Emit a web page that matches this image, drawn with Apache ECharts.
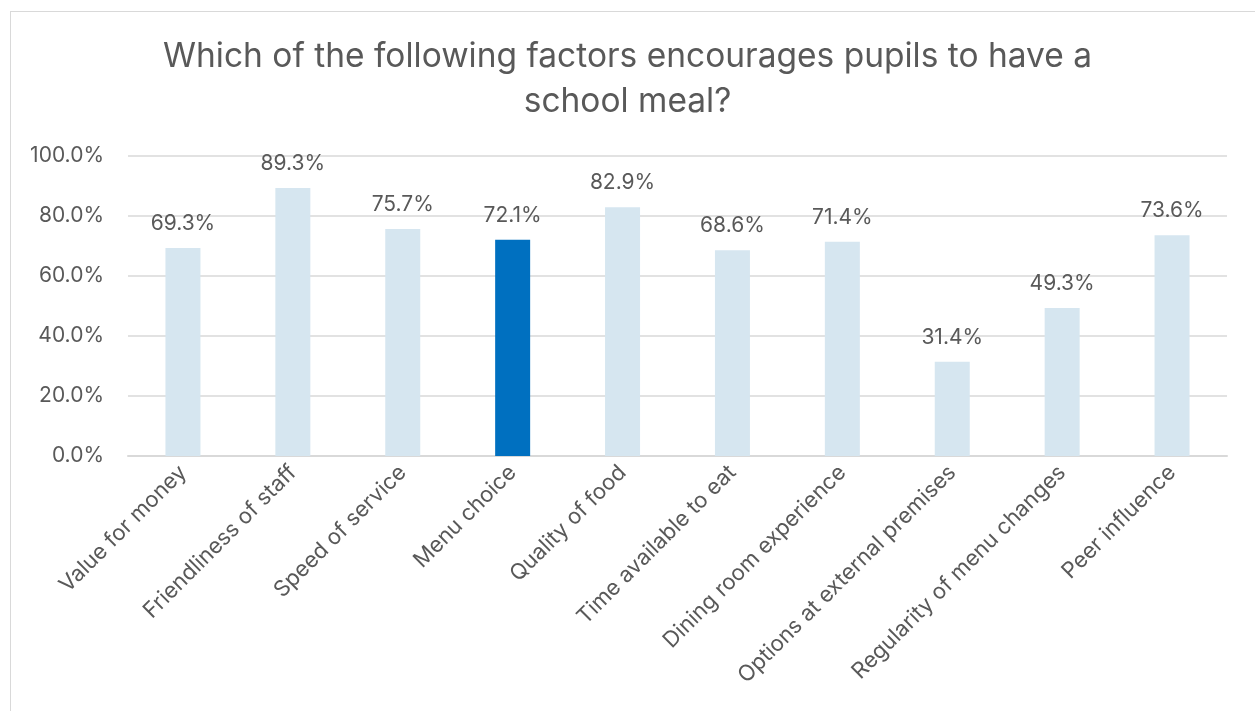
<!DOCTYPE html>
<html>
<head>
<meta charset="utf-8">
<script src="https://cdn.jsdelivr.net/npm/echarts@6/dist/echarts.min.js"></script>
<style>
  html, body { margin: 0; padding: 0; background: #fff; }
  #frame { position: absolute; left: 10px; top: 11px; width: 1300px; height: 760px; border: 1px solid #d9d9d9; box-sizing: border-box; }
  #chart { position: absolute; left: 0; top: 0; width: 1255px; height: 711px; }
</style>
</head>
<body>
<div id="frame"></div>
<div id="chart"></div>
<script>
const categories = [
  'Value for money', 'Friendliness of staff', 'Speed of service', 'Menu choice',
  'Quality of food', 'Time available to eat', 'Dining room experience',
  'Options at external premises', 'Regularity of menu changes', 'Peer influence'
];
const values = [69.3, 89.3, 75.7, 72.1, 82.9, 68.6, 71.4, 31.4, 49.3, 73.6];
const highlighted = 'Menu choice';
const yTicks = { min: 0, max: 100, interval: 20 };

const FONT = 'Inter, "Liberation Sans", sans-serif';
const TEXT = '#595959';

const chart = echarts.init(document.getElementById('chart'), null, { renderer: 'canvas' });
chart.setOption({
  backgroundColor: 'transparent',
  animation: false,
  title: {
    text: 'Which of the following factors encourages pupils to have a\nschool meal?',
    left: 'center',
    top: 29,
    textStyle: { fontFamily: FONT, fontSize: 33.5, fontWeight: 'normal', color: TEXT, lineHeight: 45 }
  },
  grid: { left: 128, right: 28, top: 156, bottom: 255 },
  xAxis: {
    type: 'category',
    data: categories,
    axisLine: { lineStyle: { color: '#d9d9d9', width: 2 } },
    axisTick: { show: false },
    axisLabel: { interval: 0, rotate: 45, margin: 13, fontFamily: FONT, fontSize: 22, color: TEXT }
  },
  yAxis: {
    type: 'value',
    min: yTicks.min, max: yTicks.max, interval: yTicks.interval,
    axisLine: { show: false },
    axisTick: { show: false },
    splitLine: { lineStyle: { color: '#d9d9d9', width: 1.5 } },
    axisLabel: {
      margin: 24, fontFamily: FONT, fontSize: 21, color: TEXT,
      formatter: v => v.toFixed(1) + '%'
    }
  },
  series: [{
    type: 'bar',
    barWidth: 35,
    data: values.map((v, i) => ({
      value: v,
      itemStyle: { color: categories[i] === highlighted ? '#0070c0' : '#d6e6f0' }
    })),
    label: {
      show: true, position: 'top', distance: 14,
      fontFamily: FONT, fontSize: 21, color: TEXT,
      formatter: p => p.value.toFixed(1) + '%'
    }
  }]
});
</script>
</body>
</html>
